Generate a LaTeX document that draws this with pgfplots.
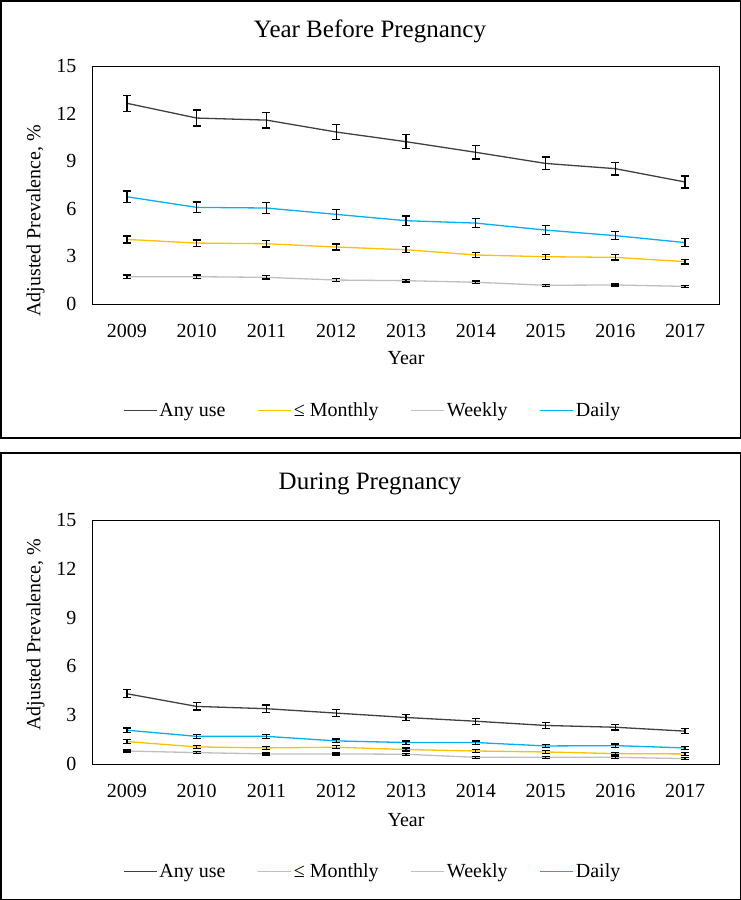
\documentclass[border=0pt]{standalone}
\usepackage{fontspec}
\setmainfont{Liberation Serif}
\usepackage{pgfplots}
\pgfplotsset{compat=1.18}
\definecolor{anyc}{HTML}{404040}
\definecolor{monc}{HTML}{FFC000}
\definecolor{weekc}{HTML}{BFBFBF}
\definecolor{dayc}{HTML}{00B0F0}
\pgfplotsset{
  panel/.style={
    scale only axis, width=628pt,
    xmin=-0.5, xmax=8.5, ymin=0, ymax=15,
    ytick={0,3,6,9,12,15},
    xtick={0,...,8},
    xticklabels={2009,2010,2011,2012,2013,2014,2015,2016,2017},
    major tick length=0pt,
    axis line style={line width=1pt},
    /pgf/number format/assume math mode=true,
    tick label style={font=\fontsize{20}{24}\selectfont},
    xticklabel style={anchor=center, yshift=-27pt},
    yticklabel style={anchor=east, xshift=-12pt},
    label style={font=\fontsize{20}{24}\selectfont},
    xlabel={Year},
    ylabel={Adjusted Prevalence, \%},
    legend columns=4,
    legend style={draw=none, fill=none, font=\fontsize{20}{24}\selectfont,
      /tikz/every even column/.append style={column sep=30pt}},
    legend image code/.code={\draw[#1, line width=1.3pt] (0pt,0pt) -- (33pt,0pt);},
  },
  eb/.style={line width=1.3pt, mark=none,
    error bars/.cd, y dir=both, y explicit,
    error bar style={black, line width=1.3pt},
    error mark options={black, line width=1.3pt, mark size=4pt, rotate=90}},
}
\begin{document}
\begin{tikzpicture}
\draw[line width=1.5pt] (0.75pt,-0.75pt) rectangle (740.25pt,-438pt);
\draw[line width=1.5pt] (0.75pt,-453pt) rectangle (740.25pt,-899.25pt);
\node[font=\fontsize{25}{29}\selectfont] at (370pt,-31pt) {Year Before Pregnancy};
\node[font=\fontsize{25}{29}\selectfont] at (370pt,-484pt) {During Pregnancy};
\begin{axis}[panel, at={(92pt,-304pt)}, anchor=south west, height=238pt,
  xlabel style={at={(axis description cs:0.5,-0.227)}, anchor=center},
  ylabel style={at={(axis description cs:-0.09,0.35)}, anchor=center},
  legend style={at={(axis description cs:0.447,-0.447)}, anchor=center}]
\addplot[anyc, eb] coordinates {(0,12.65)+-(0,0.5) (1,11.72)+-(0,0.5) (2,11.59)+-(0,0.5) (3,10.84)+-(0,0.47) (4,10.23)+-(0,0.45) (5,9.56)+-(0,0.42) (6,8.86)+-(0,0.4) (7,8.53)+-(0,0.4) (8,7.69)+-(0,0.37)};
\addlegendentry{Any use}
\addplot[monc, eb] coordinates {(0,4.07)+-(0,0.22) (1,3.84)+-(0,0.2) (2,3.80)+-(0,0.2) (3,3.59)+-(0,0.19) (4,3.42)+-(0,0.19) (5,3.09)+-(0,0.17) (6,2.98)+-(0,0.16) (7,2.94)+-(0,0.16) (8,2.67)+-(0,0.15)};
\addlegendentry{≤ Monthly}
\addplot[weekc, eb] coordinates {(0,1.72)+-(0,0.1) (1,1.72)+-(0,0.1) (2,1.68)+-(0,0.1) (3,1.51)+-(0,0.09) (4,1.47)+-(0,0.09) (5,1.37)+-(0,0.08) (6,1.18)+-(0,0.07) (7,1.20)+-(0,0.07) (8,1.11)+-(0,0.07)};
\addlegendentry{Weekly}
\addplot[dayc, eb] coordinates {(0,6.76)+-(0,0.37) (1,6.09)+-(0,0.34) (2,6.05)+-(0,0.34) (3,5.65)+-(0,0.32) (4,5.25)+-(0,0.3) (5,5.10)+-(0,0.29) (6,4.66)+-(0,0.27) (7,4.31)+-(0,0.26) (8,3.87)+-(0,0.25)};
\addlegendentry{Daily}
\end{axis}
\begin{axis}[panel, at={(92pt,-764pt)}, anchor=south west, height=244pt,
  xlabel style={at={(axis description cs:0.5,-0.229)}, anchor=center},
  ylabel style={at={(axis description cs:-0.09,0.53)}, anchor=center},
  legend style={at={(axis description cs:0.447,-0.441)}, anchor=center}]
\addplot[anyc, eb] coordinates {(0,4.32)+-(0,0.25) (1,3.54)+-(0,0.22) (2,3.40)+-(0,0.22) (3,3.13)+-(0,0.2) (4,2.86)+-(0,0.19) (5,2.63)+-(0,0.18) (6,2.37)+-(0,0.17) (7,2.26)+-(0,0.16) (8,2.02)+-(0,0.15)};
\addlegendentry{Any use}
\addplot[monc, eb] coordinates {(0,1.38)+-(0,0.12) (1,1.05)+-(0,0.1) (2,0.99)+-(0,0.09) (3,1.03)+-(0,0.09) (4,0.89)+-(0,0.09) (5,0.80)+-(0,0.08) (6,0.74)+-(0,0.08) (7,0.64)+-(0,0.08) (8,0.62)+-(0,0.08)};
\addlegendentry{≤ Monthly}
\addplot[weekc, eb] coordinates {(0,0.80)+-(0,0.07) (1,0.70)+-(0,0.06) (2,0.62)+-(0,0.06) (3,0.62)+-(0,0.06) (4,0.60)+-(0,0.06) (5,0.41)+-(0,0.05) (6,0.41)+-(0,0.05) (7,0.41)+-(0,0.05) (8,0.33)+-(0,0.05)};
\addlegendentry{Weekly}
\addplot[dayc, eb] coordinates {(0,2.08)+-(0,0.14) (1,1.70)+-(0,0.12) (2,1.70)+-(0,0.12) (3,1.42)+-(0,0.11) (4,1.32)+-(0,0.1) (5,1.32)+-(0,0.1) (6,1.11)+-(0,0.1) (7,1.13)+-(0,0.1) (8,0.99)+-(0,0.1)};
\addlegendentry{Daily}
\end{axis}
\end{tikzpicture}
\end{document}
